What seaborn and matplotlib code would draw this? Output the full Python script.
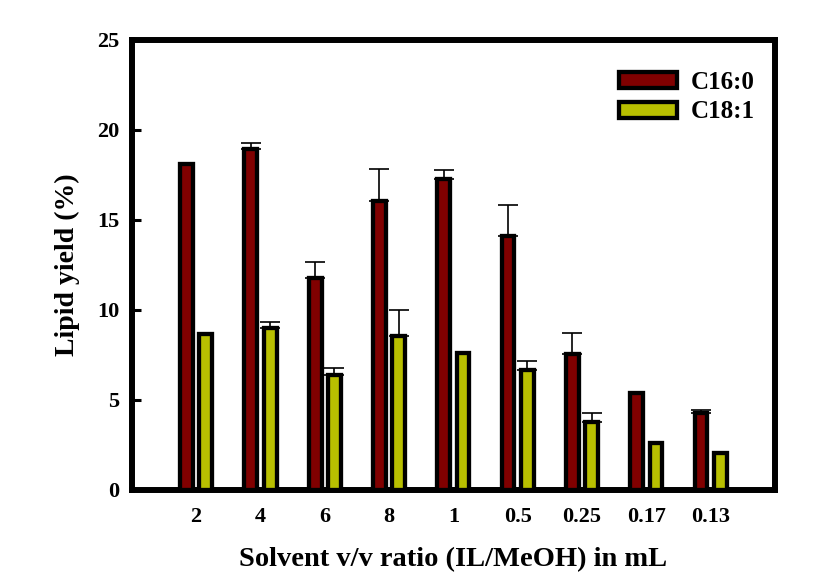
import matplotlib
matplotlib.use("Agg")
import matplotlib.pyplot as plt
import matplotlib.patches as mpatches
import numpy as np
import pandas as pd
import seaborn as sns

ratios = ["2", "4", "6", "8", "1", "0.5", "0.25", "0.17", "0.13"]
c16_0 = [18.1, 18.95, 11.75, 16.05, 17.25, 14.1, 7.55, 5.4, 4.3]
c16_0_err = [0.0, 0.3, 0.9, 1.75, 0.5, 1.75, 1.15, 0.0, 0.15]
c18_1 = [8.65, 9.0, 6.4, 8.55, 7.6, 6.65, 3.75, 2.6, 2.05]
c18_1_err = [0.0, 0.35, 0.35, 1.45, 0.0, 0.5, 0.5, 0.0, 0.0]
series = ["C16:0", "C18:1"]
colors = {"C16:0": "#800000", "C18:1": "#B8BF00"}

df = pd.DataFrame({
    "ratio": ratios * 2,
    "yield": c16_0 + c18_1,
    "err": c16_0_err + c18_1_err,
    "fa": [series[0]] * len(ratios) + [series[1]] * len(ratios),
})

sns.set_style("ticks", {"axes.edgecolor": "black", "text.color": "black",
                        "xtick.color": "black", "ytick.color": "black",
                        "axes.labelcolor": "black"})
plt.rcParams["font.family"] = ["Liberation Serif", "DejaVu Serif"]
plt.rcParams["font.weight"] = "bold"

fig = plt.figure(figsize=(8.14, 5.84), dpi=100)
ax = fig.add_axes([0.162, 0.161, 0.790, 0.771])

sns.barplot(
    data=df, x="ratio", y="yield", hue="fa", order=ratios, hue_order=series,
    palette=colors, width=0.6, gap=1 / 3, edgecolor="black", linewidth=3.1,
    saturation=1, legend=False, ax=ax, zorder=3,
)

# upward-only error bars from the drawn bar positions
bars = [p for p in ax.patches if p.get_height() > 0]
for p, e in zip(bars, df["err"]):
    if e > 0:
        x = p.get_x() + p.get_width() / 2
        ax.errorbar(x, p.get_height(), yerr=[[0], [e]], fmt="none",
                    ecolor="black", elinewidth=1.2, capsize=7.5,
                    capthick=1.2, zorder=2)

ax.set_xlim(-1, 9)
ax.set_ylim(0, 25)
ax.set_yticks([0, 5, 10, 15, 20, 25])

for s in ax.spines.values():
    s.set_linewidth(4.3)
    s.set_color("black")
    s.set_visible(True)
ax.tick_params(axis="y", direction="in", length=6.5, width=2.2, pad=9,
               labelsize=16, colors="black")
ax.tick_params(axis="x", length=0, pad=12, labelsize=16, colors="black")
for lbl in ax.get_xticklabels() + ax.get_yticklabels():
    lbl.set_fontweight("bold")

ax.set_xlabel("Solvent v/v ratio (IL/MeOH) in mL", fontsize=20.5,
              fontweight="bold", labelpad=15, color="black")
ax.set_ylabel("Lipid yield (%)", fontsize=20, fontweight="bold",
              labelpad=12.5, color="black")

handles = [mpatches.Patch(facecolor=colors[s], edgecolor="black",
                          linewidth=3.1, label=s) for s in series]
ax.legend(handles=handles, loc="upper right", bbox_to_anchor=(1.003, 0.98),
          frameon=False, handlelength=2.3, handleheight=0.6,
          handletextpad=0.55, labelspacing=0.25,
          prop={"weight": "bold", "size": 18})

fig.savefig("out.png", dpi=100)
